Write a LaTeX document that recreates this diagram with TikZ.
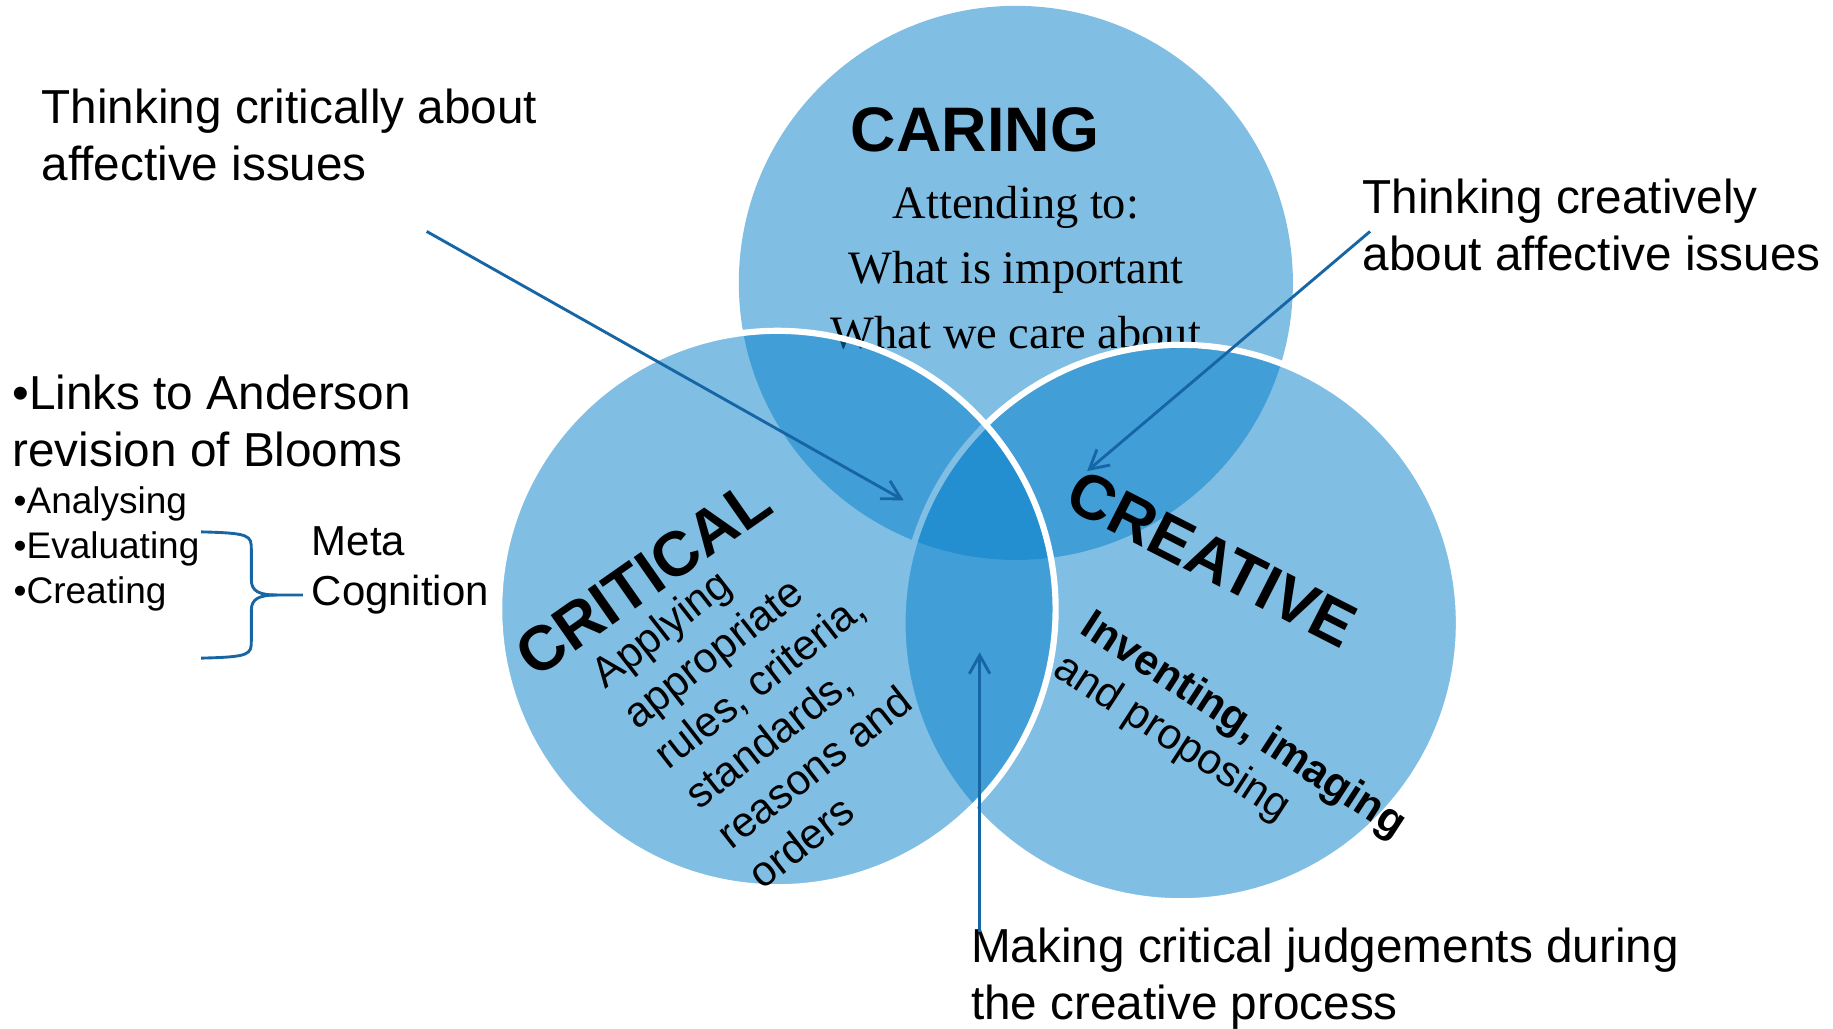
\documentclass[tikz,border=0pt]{standalone}
\usepackage{fontspec}
\setmainfont{Liberation Sans}
\newfontfamily\caringserif{Liberation Serif}
\usepackage{tikz}
\usetikzlibrary{arrows.meta}

\definecolor{vennblue}{RGB}{7,128,202}
\definecolor{linkblue}{RGB}{22,102,166}

\begin{document}
\begin{tikzpicture}[x=0.01cm, y=-0.01cm,
    venn/.style={fill=vennblue, fill opacity=0.51},
    rim/.style={draw=white, line width=1.5pt},
    head/.style={inner sep=0pt, font=\fontsize{15.3}{18}\selectfont\bfseries},
    lbl/.style={inner sep=0pt, anchor=north west, align=left, font=\fontsize{11.6}{13.9}\selectfont},
    pointer/.style={draw=linkblue, line width=0.7pt, -{Straight Barb[length=4.5pt,width=5pt]}},
    bracket/.style={draw=linkblue, line width=0.7pt}]
    \useasboundingbox (0,0) rectangle (1568,880);

    % caring circle and its text sit under the other two
    \fill[venn] (869,242) circle (237);
    \node[head] (CAR) at (834,111) {CARING};
    \node[inner sep=0pt, anchor=north, align=center, font=\caringserif\fontsize{11.3}{15.8}\selectfont] (CARtxt) at (869,159) {Attending to:\\What is important\\What we care about};

    \path[venn, rim] (1010,533) circle (238);
    \path[venn, rim] (665,521) circle (238);

    \node[head, rotate=35] (CRI) at (550,494) {CRITICAL};
    \node[inner sep=0pt, rotate=38, align=left, font=\fontsize{10.3}{12.4}\selectfont] (CRItxt) at (663,599) {Applying\\appropriate\\rules, criteria,\\standards,\\reasons and\\orders};
    \node[head, rotate=-27] (CRE) at (1037,478) {CREATIVE};
    \node[inner sep=0pt, rotate=-33, align=left, font=\fontsize{10.4}{12}\selectfont] (CREtxt) at (1052,639) {\textbf{Inventing, imaging}\\and proposing};

    % side labels
    \node[lbl] (TCA) at (35,75) {Thinking critically about\\affective issues};
    \node[lbl] (TCR) at (1165,152) {Thinking creatively\\about affective issues};
    \node[lbl] (LNK) at (10,320) {\textbullet Links to Anderson\\revision of Blooms};
    \node[lbl, font=\fontsize{9}{10.9}\selectfont] (LST) at (11,416) {\textbullet Analysing\\\textbullet Evaluating\\\textbullet Creating};
    \node[lbl, font=\fontsize{10.2}{12.2}\selectfont] (MC) at (266,450) {Meta\\Cognition};
    \node[lbl] (MCJ) at (830,793) {Making critical judgements during\\the creative process};

    \coordinate (TCAfoot) at (365,198);
    \coordinate (TCAtip) at (773,428);
    \coordinate (TCRfoot) at (1172,198);
    \coordinate (TCRtip) at (930,403);
    \coordinate (MCJfoot) at (838,797);
    \coordinate (MCJtip) at (838,558);
    \coordinate (Btop) at (172,455);
    \coordinate (Bbot) at (172,563);
    \coordinate (Bmid) at (237,509);
    \coordinate (Btip) at (259,509);

    \path[pointer] (TCAfoot) -- (TCAtip);
    \path[pointer] (TCRfoot) -- (TCRtip);
    \path[pointer] (MCJfoot) -- (MCJtip);

    \path[bracket] (Btop) .. controls (214,456) and (215,458) .. (215,470) -- (215,496) .. controls (215,506) and (222,509) .. (Bmid) -- (Btip);
    \path[bracket] (Bbot) .. controls (214,562) and (215,560) .. (215,548) -- (215,522) .. controls (215,512) and (222,509) .. (Bmid);
\end{tikzpicture}
\end{document}
